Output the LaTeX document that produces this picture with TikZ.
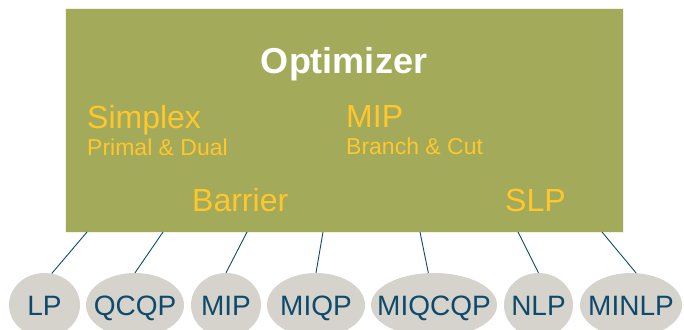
\documentclass[tikz,border=0pt]{standalone}
\usepackage{fontspec}
\setmainfont{Liberation Sans}
\usetikzlibrary{shapes.geometric}
\definecolor{boxgreen}{HTML}{A3AA5A}
\definecolor{labyellow}{HTML}{FFC72C}
\definecolor{ellgray}{HTML}{D6D2CC}
\definecolor{navy}{HTML}{0D4A6B}
\tikzset{
  lab/.style={inner sep=0pt, anchor=base west, text=labyellow, font=\fontsize{32}{32}\selectfont},
  sublab/.style={inner sep=0pt, anchor=base west, text=labyellow, font=\fontsize{23}{23}\selectfont},
  prob/.style={ellipse, fill=ellgray, inner sep=0pt, minimum height=64pt},
  probtext/.style={inner sep=0pt, text=navy, font=\fontsize{28}{28}\selectfont, text height=20pt, text depth=0pt},
  conn/.style={draw=navy, line width=0.9pt}
}
\begin{document}
\begin{tikzpicture}[x=1pt,y=-1pt]
\useasboundingbox (0,0) rectangle (684,329);
\node[draw=white!85!boxgreen, line width=0.8pt, fill=boxgreen, minimum width=558pt, minimum height=224pt, inner sep=0pt, anchor=north west] (opt) at (65,8) {};
\node[inner sep=0pt, anchor=base, text=white, font=\fontsize{36}{36}\selectfont\bfseries] (title) at (344,73) {Optimizer};
\node[lab] (simplex) at (87,128) {Simplex};
\node[sublab] (primal) at (87,155) {Primal \& Dual};
\node[lab] (mip) at (346,127) {MIP};
\node[sublab] (branch) at (346,154) {Branch \& Cut};
\node[lab] (barrier) at (192,211) {Barrier};
\node[lab] (slp) at (505,211) {SLP};

\node[prob, minimum width=71pt] (lp) at (44.5,305) {};
\node[prob, minimum width=98pt] (qcqp) at (135,305) {};
\node[prob, minimum width=70pt] (pmip) at (226,305) {};
\node[prob, minimum width=98pt] (miqp) at (316,305) {};
\node[prob, minimum width=126pt] (miqcqp) at (434,305) {};
\node[prob, minimum width=69pt] (nlp) at (538.5,305) {};
\node[prob, minimum width=102pt] (minlp) at (631,305) {};
\node[probtext] (tlp) at (lp.center) {LP};
\node[probtext] (tqcqp) at (qcqp.center) {QCQP};
\node[probtext] (tpmip) at (pmip.center) {MIP};
\node[probtext] (tmiqp) at (miqp.center) {MIQP};
\node[probtext] (tmiqcqp) at (miqcqp.center) {MIQCQP};
\node[probtext] (tnlp) at (nlp.center) {NLP};
\node[probtext] (tminlp) at (minlp.center) {MINLP};

\coordinate (o1) at (87,232);
\coordinate (o2) at (163,232);
\coordinate (o3) at (247,232);
\coordinate (o4) at (323,232);
\coordinate (o5) at (420,232);
\coordinate (o6) at (518,232);
\coordinate (o7) at (602,232);
\draw[conn] (o1) -- (lp.77);
\draw[conn] (o2) -- (qcqp.90);
\draw[conn] (o3) -- (pmip.90);
\draw[conn] (o4) -- (miqp.90);
\draw[conn] (o5) -- (miqcqp.100);
\draw[conn] (o6) -- (nlp.90);
\draw[conn] (o7) -- (minlp.81);
\end{tikzpicture}
\end{document}
